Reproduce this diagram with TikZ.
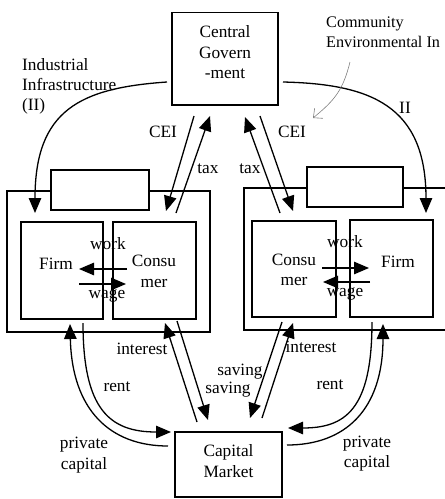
\documentclass[tikz,border=0pt]{standalone}
\usepackage{fontspec}
\setmainfont{Liberation Serif}
\usetikzlibrary{arrows.meta}
\newcommand\diafont{\fontsize{17.3}{20.5}\selectfont}
\newcommand\commfont{\fontsize{16.2}{20}\selectfont}
\tikzset{
  box/.style={draw, line width=1.3pt, inner sep=0pt, rectangle},
  wbox/.style={box, fill=white},
  lab/.style={inner sep=0pt, anchor=base},
  labw/.style={inner sep=0pt, anchor=base west},
  txt/.style={inner sep=0pt, align=center},
  flow/.style={line width=1.3pt, -{Triangle[length=15pt,width=12.5pt]}},
  note/.style={line width=0.6pt, draw=gray, -{Straight Barb[length=7pt,width=13pt]}},
}
\begin{document}
\begin{tikzpicture}[x=1pt,y=-1pt,font=\diafont]
\useasboundingbox (0,0) rectangle (445,499);
\clip (0,0) rectangle (445,499);
% boxes
\node[box, minimum width=106pt, minimum height=92.5pt] (gov) at (225,58.75) {};
\node[txt] (govtxt) at (225,52.5) {Central\\Govern\\-ment};
\node[box, minimum width=107pt, minimum height=65pt] (cap) at (228.5,464.5) {};
\node[txt] (captxt) at (228.5,461) {Capital\\Market};
\node[box, minimum width=203pt, minimum height=141pt] (lout) at (108.5,261.5) {};
\node[wbox, minimum width=98pt, minimum height=40pt] (lsmall) at (100,190) {};
\node[box, minimum width=82pt, minimum height=97pt] (lfirm) at (62,270.5) {};
\node[box, minimum width=83pt, minimum height=97pt] (lcons) at (154.5,270.5) {};
\node[box, minimum width=216pt, minimum height=142pt] (rout) at (352,259) {};
\node[wbox, minimum width=96pt, minimum height=40pt] (rsmall) at (355,187) {};
\node[box, minimum width=84pt, minimum height=96pt] (rcons) at (294,269) {};
\node[box, minimum width=83pt, minimum height=97pt] (rfirm) at (391.5,268.5) {};
% box texts
\node[lab] (lfirmtxt) at (56,269) {Firm};
\node[txt] (lconstxt) at (154,271.5) {Consu\\mer};
\node[lab] (rfirmtxt) at (398,267) {Firm};
\node[txt] (rconstxt) at (294,270) {Consu\\mer};
\node[lab] (lwork) at (108,249) {work};
\node[lab] (lwage) at (107,298) {wage};
\node[lab] (rwork) at (345,247) {work};
\node[lab] (rwage) at (345,296) {wage};
% free labels
\node[labw, font=\commfont] (comm1) at (326,27) {Community};
\node[labw, font=\commfont] (comm2) at (326,47) {Environmental In};
\node[labw] (ind1) at (22,70) {Industrial};
\node[labw] (ind2) at (22,90) {Infrastructure};
\node[labw] (ind3) at (22,110) {(II)};
\node[lab] (iiR) at (405,113) {II};
\node[lab] (ceiL) at (163,137) {CEI};
\node[lab] (ceiR) at (292,137) {CEI};
\node[lab] (taxL) at (208,173) {tax};
\node[lab] (taxR) at (250,173) {tax};
\node[lab] (intL) at (142,354) {interest};
\node[lab] (rentL) at (117,391) {rent};
\node[lab] (intR) at (311,352) {interest};
\node[lab] (rentR) at (330,389) {rent};
\node[lab] (sav1) at (240,375) {saving};
\node[lab] (sav2) at (228,393) {saving};
\node[lab] (pcL1) at (84,448) {private};
\node[lab] (pcL2) at (84,469) {capital};
\node[lab] (pcR1) at (367,447) {private};
\node[lab] (pcR2) at (367,467) {capital};
% endpoints
\coordinate (ceiLs) at (194,116);  \coordinate (ceiLe) at (166,211);
\coordinate (taxLs) at (176,213);  \coordinate (taxLe) at (210,116);
\coordinate (taxRs) at (280,213);  \coordinate (taxRe) at (245,117);
\coordinate (ceiRs) at (260,116);  \coordinate (ceiRe) at (293,211);
\coordinate (iiLs) at (167,82);    \coordinate (iiLe) at (35,213);
\coordinate (iiRs) at (283,82);    \coordinate (iiRe) at (426,213);
\coordinate (noteS) at (350,62);   \coordinate (noteE) at (313,118);
\coordinate (lworkS) at (127,269); \coordinate (lworkE) at (79,269);
\coordinate (lwageS) at (79,284);  \coordinate (lwageE) at (126,284);
\coordinate (rworkS) at (322,268); \coordinate (rworkE) at (369,268);
\coordinate (rwageS) at (370,282); \coordinate (rwageE) at (323,282);
\coordinate (rentLs) at (83,323);  \coordinate (rentLe) at (171,432);
\coordinate (pcLs) at (168,446);   \coordinate (pcLe) at (70,324);
\coordinate (intLs) at (197,422);  \coordinate (intLe) at (165,323);
\coordinate (savLs) at (177,321);  \coordinate (savLe) at (208,420);
\coordinate (savRs) at (282,322);  \coordinate (savRe) at (250,418);
\coordinate (intRs) at (262,418);  \coordinate (intRe) at (293,323);
\coordinate (rentRs) at (372,322); \coordinate (rentRe) at (288,428);
\coordinate (pcRs) at (287,445);   \coordinate (pcRe) at (383,324);
% connectors
\draw[flow] (ceiLs) -- (ceiLe);
\draw[flow] (taxLs) -- (taxLe);
\draw[flow] (taxRs) -- (taxRe);
\draw[flow] (ceiRs) -- (ceiRe);
\draw[flow] (iiLs) .. controls (80,88) and (35,110) .. (iiLe);
\draw[flow] (iiRs) .. controls (370,84) and (426,105) .. (iiRe);
\draw[note] (noteS) .. controls (343,90) and (335,100) .. (noteE);
\draw[flow] (lworkS) -- (lworkE);
\draw[flow] (lwageS) -- (lwageE);
\draw[flow] (rworkS) -- (rworkE);
\draw[flow] (rwageS) -- (rwageE);
\draw[flow] (rentLs) .. controls (83,410) and (110,432) .. (rentLe);
\draw[flow] (pcLs) .. controls (110,446) and (72,410) .. (pcLe);
\draw[flow] (intLs) -- (intLe);
\draw[flow] (savLs) -- (savLe);
\draw[flow] (savRs) -- (savRe);
\draw[flow] (intRs) -- (intRe);
\draw[flow] (rentRs) .. controls (372,410) and (345,428) .. (rentRe);
\draw[flow] (pcRs) .. controls (345,445) and (383,410) .. (pcRe);
\end{tikzpicture}
\end{document}
